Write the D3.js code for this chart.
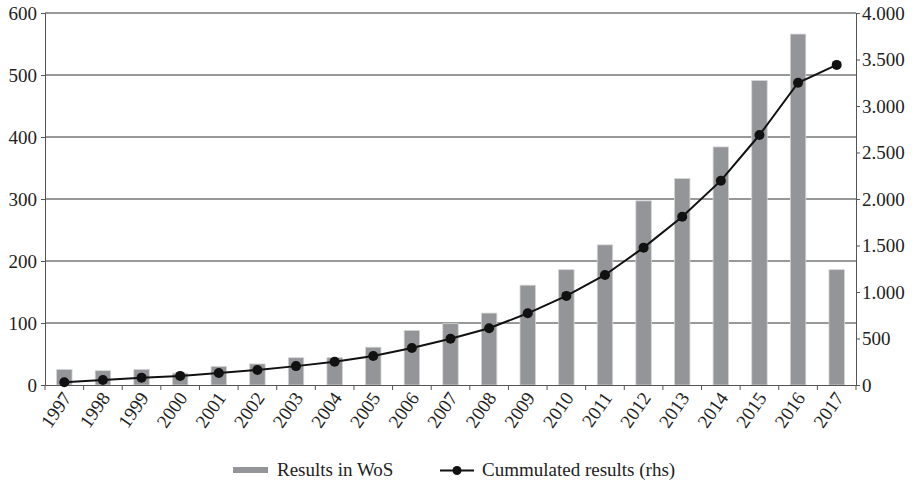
<!DOCTYPE html>
<html>
<head>
<meta charset="utf-8">
<script src="https://cdn.jsdelivr.net/npm/d3@7"></script>
<style>
  body { margin: 0; background: #fff; }
  svg, svg text { font-family: 'Liberation Serif', Tinos, 'Times New Roman', Times, serif !important; }
</style>
</head>
<body>
<div id="graph"></div>
<script>
var years = ["1997", "1998", "1999", "2000", "2001", "2002", "2003", "2004", "2005", "2006", "2007",
             "2008", "2009", "2010", "2011", "2012", "2013", "2014", "2015", "2016", "2017"];
var results = [25, 23, 25, 19, 30, 34, 44, 44, 61, 88, 99, 116, 161, 186, 226, 297, 333, 384, 491, 566, 186];
var cummulated = [29, 54, 79, 98, 129, 162, 203, 250, 311, 398, 498, 610, 771, 958, 1183, 1477, 1810, 2197, 2688, 3250, 3442];
var leftTicks = [0, 100, 200, 300, 400, 500, 600];
var rightTicks = [0, 500, 1000, 1500, 2000, 2500, 3000, 3500, 4000];

var width = 916, height = 482;
var margins = {top: 13, right: 60, bottom: 97, left: 45};
var fontSize = 19;

var svg = d3.select('#graph')
  .append('svg')
  .attr('width', width)
  .attr('height', height);

var x = d3.scaleBand()
  .domain(years)
  .range([margins.left, width - margins.right]);

var yLeft = d3.scaleLinear()
  .domain([0, 600])
  .range([height - margins.bottom, margins.top]);

var yRight = d3.scaleLinear()
  .domain([0, 4000])
  .range([height - margins.bottom, margins.top]);

// thousands separator is a dot on the right axis
var fmtRight = function(v) { return d3.format(",")(v).replace(",", "."); };

/* gridlines follow the left axis */
svg.append('g')
  .selectAll('line')
  .data(leftTicks.slice(1))
  .join('line')
  .attr('x1', margins.left)
  .attr('x2', width - margins.right)
  .attr('y1', function(d) { return yLeft(d); })
  .attr('y2', function(d) { return yLeft(d); })
  .attr('stroke', '#333')
  .attr('stroke-width', 1);

/* bars */
var barW = x.bandwidth() * 0.4;
svg.append('g')
  .selectAll('rect')
  .data(results)
  .join('rect')
  .attr('x', function(d, i) { return x(years[i]) + (x.bandwidth() - barW) / 2; })
  .attr('y', function(d) { return yLeft(d); })
  .attr('width', barW)
  .attr('height', function(d) { return yLeft(0) - yLeft(d); })
  .attr('fill', '#939598')
  .attr('stroke', '#d4d4d4')
  .attr('stroke-width', 0.8);

/* axes */
var xAxis = svg.append('g')
  .attr('transform', 'translate(0,' + yLeft(0) + ')')
  .call(d3.axisBottom(x).tickSize(0).tickFormat(''));
xAxis.select('.domain').attr('stroke', '#555');

// category separator ticks
svg.append('g')
  .selectAll('line')
  .data(d3.range(years.length + 1))
  .join('line')
  .attr('x1', function(i) { return margins.left + i * x.step(); })
  .attr('x2', function(i) { return margins.left + i * x.step(); })
  .attr('y1', yLeft(0))
  .attr('y2', yLeft(0) + 5)
  .attr('stroke', '#555');

svg.append('g')
  .selectAll('text')
  .data(years)
  .join('text')
  .attr('transform', function(d) {
    return 'translate(' + (x(d) + x.bandwidth() / 2 + 8) + ',' + (yLeft(0) + 13) + ') rotate(-55)';
  })
  .attr('text-anchor', 'end')
  .attr('font-size', fontSize)
  .attr('fill', '#222')
  .text(function(d) { return d; });

var leftAxis = svg.append('g')
  .attr('transform', 'translate(' + margins.left + ',0)')
  .call(d3.axisLeft(yLeft).tickValues(leftTicks).tickSize(4).tickPadding(4));
var rightAxis = svg.append('g')
  .attr('transform', 'translate(' + (width - margins.right) + ',0)')
  .call(d3.axisRight(yRight).tickValues(rightTicks).tickSize(4).tickPadding(2).tickFormat(fmtRight));

[leftAxis, rightAxis].forEach(function(a) {
  a.attr('font-family', null);
  a.select('.domain').attr('stroke', '#555');
  a.selectAll('.tick line').attr('stroke', '#555');
  a.selectAll('.tick text')
    .attr('font-size', fontSize)
    .attr('fill', '#222');
});

/* cummulated line */
var lineFunc = d3.line()
  .x(function(d, i) { return x(years[i]) + x.bandwidth() / 2; })
  .y(function(d) { return yRight(d); });

svg.append('path')
  .attr('d', lineFunc(cummulated))
  .attr('fill', 'none')
  .attr('stroke', '#111')
  .attr('stroke-width', 2);

svg.append('g')
  .selectAll('circle')
  .data(cummulated)
  .join('circle')
  .attr('cx', function(d, i) { return x(years[i]) + x.bandwidth() / 2; })
  .attr('cy', function(d) { return yRight(d); })
  .attr('r', 5)
  .attr('fill', '#111');

/* legend */
var legend = svg.append('g').attr('transform', 'translate(0,470)');
legend.append('rect')
  .attr('x', 233).attr('y', -3).attr('width', 35).attr('height', 6)
  .attr('fill', '#939598');
legend.append('text')
  .attr('x', 277).attr('y', 6)
  .attr('font-size', fontSize).attr('fill', '#222')
  .text('Results in WoS');
legend.append('line')
  .attr('x1', 440).attr('x2', 474).attr('y1', 0.5).attr('y2', 0.5)
  .attr('stroke', '#111').attr('stroke-width', 2);
legend.append('circle')
  .attr('cx', 457).attr('cy', 0.5).attr('r', 4.5).attr('fill', '#111');
legend.append('text')
  .attr('x', 482).attr('y', 6)
  .attr('font-size', fontSize).attr('fill', '#222')
  .text('Cummulated results (rhs)');
</script>
</body>
</html>
